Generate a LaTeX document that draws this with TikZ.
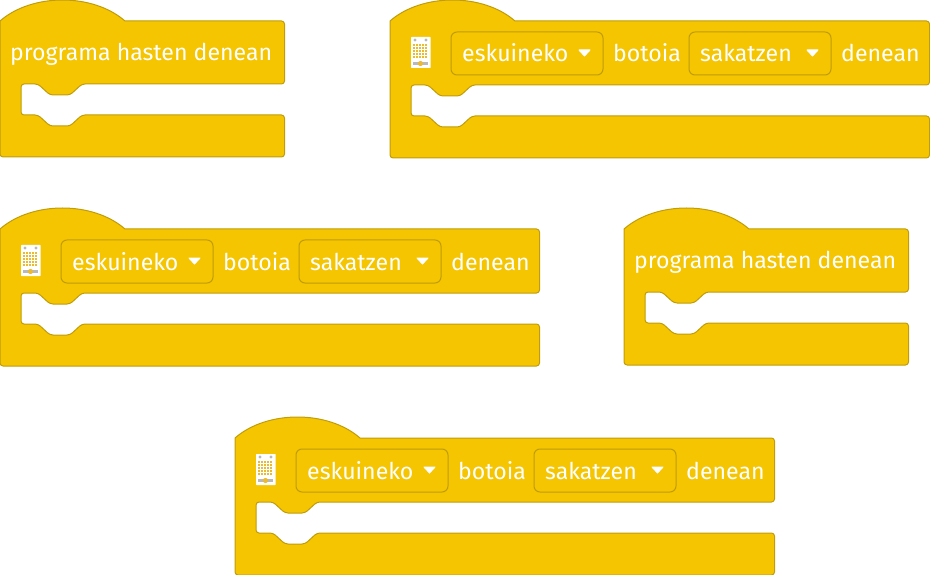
\documentclass[tikz,border=0pt]{standalone}
\usepackage{fontspec}
\setmainfont{Fira Sans}
\usepackage{xcolor}
\definecolor{blockyellow}{RGB}{244,197,0}
\definecolor{blockedge}{RGB}{192,156,10}
\definecolor{gridyellow}{RGB}{235,185,50}
\definecolor{boardgray}{RGB}{185,185,185}
\tikzset{
  blocklabel/.style={anchor=base west, text=white, inner sep=0pt, font=\fontsize{23.1}{26}\selectfont},
  blockbody/.style={fill=blockyellow, draw=blockedge, line width=1pt, line join=round},
  dropbox/.style={draw=blockedge, line width=1pt, rounded corners=6pt}
}
% body of a hat block: width, bottom of upper bar, top of lower bar, bottom
\newcommand{\blockbody}[4]{
  \path[blockbody] (0,21) .. controls (32,-7) and (93,-7) .. (125,21)
    [rounded corners=3pt] -- (#1,21) -- (#1,#2) -- (82,#2) -- (70,#2+11) -- (50,#2+11) -- (38,#2) -- (21,#2)
    -- (21,#3) -- (38,#3) -- (50,#3+11) -- (70,#3+11) -- (82,#3) -- (#1,#3) -- (#1,#4) -- (0,#4) [sharp corners] -- cycle;
}
% small triangle of a dropdown
\newcommand{\droparrow}[1]{
  \fill[white, draw=white, line width=1pt, line join=round] (#1+1,50) -- (#1+12,50) -- (#1+6.5,56) -- cycle;
}
% block with board icon and two dropdowns, prefix names its nodes
\newcommand{\buttonblock}[1]{
  \blockbody{539.5}{85}{116}{158}
  % board icon
  \fill[white, rounded corners=0.5pt] (21,37) rectangle (40.5,68);
  \fill[boardgray] (25,40) circle (1.6) (36,40) circle (1.6);
  \foreach \i in {0,...,4} {
    \foreach \j in {0,...,4} {
      \fill[gridyellow] (23+\i*3,44+\j*3) rectangle +(2.45,2.45);
    }
  }
  \fill[boardgray] (23,62) rectangle (38,65);
  \fill[gridyellow] (30.5,63.5) circle (2.6);
  % dropdowns
  \draw[dropbox] (61,32) rectangle (213,75);
  \draw[dropbox] (299,32) rectangle (441,75);
  \droparrow{188}
  \droparrow{416}
  % labels
  \node[blocklabel] (#1side) at (72,62) {eskuineko};
  \node[blocklabel] (#1button) at (223,62) {botoia};
  \node[blocklabel] (#1press) at (310,62) {sakatzen};
  \node[blocklabel] (#1when) at (451,62) {denean};
}
% block that only says the program starts
\newcommand{\startblock}[1]{
  \blockbody{284.5}{84}{115}{157}
  \node[blocklabel] (#1label) at (10,61) {programa hasten denean};
}
\begin{document}
\begin{tikzpicture}[x=1pt, y=-1pt]
  \useasboundingbox (0,0) rectangle (930,575);

  % First row
  \begin{scope}[shift={(0,0)}]
    \startblock{starttop}
  \end{scope}
  \begin{scope}[shift={(390,0)}]
    \buttonblock{buttontop}
  \end{scope}

  % Second row
  \begin{scope}[shift={(0,208)}]
    \buttonblock{buttonmid}
  \end{scope}
  \begin{scope}[shift={(624,208)}]
    \startblock{startmid}
  \end{scope}

  % Last row
  \begin{scope}[shift={(235,417)}]
    \buttonblock{buttonlow}
  \end{scope}
\end{tikzpicture}
\end{document}
